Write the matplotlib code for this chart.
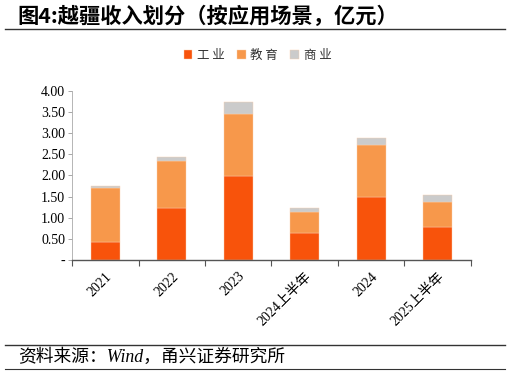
import matplotlib
matplotlib.use("Agg")
import matplotlib.pyplot as plt
import matplotlib.ticker as ticker
import numpy as np

plt.rcParams["font.family"] = ["Liberation Serif", "Noto Sans CJK SC"]

categories = ["2021", "2022", "2023", "2024上半年", "2024", "2025上半年"]
industry = [0.42, 1.24, 1.99, 0.65, 1.50, 0.79]
education = [1.29, 1.10, 1.46, 0.49, 1.21, 0.58]
commercial = [0.05, 0.10, 0.29, 0.09, 0.17, 0.18]
series_names = ["工 业", "教 育", "商 业"]
colors = ["#F8530B", "#F7984B", "#CBCBCB"]

fig = plt.figure(figsize=(5.1, 3.76), dpi=100)
ax = fig.add_axes([0.1412, 0.3085, 0.7823, 0.4495])

x = np.arange(len(categories))
bottom = np.zeros(len(categories))
for vals, name, c in zip([industry, education, commercial], series_names, colors):
    ax.bar(x, vals, width=0.43, bottom=bottom, color=c, label=name,
           edgecolor="#FBD0B0", linewidth=0.3)
    bottom += np.array(vals)

ax.set_xlim(-0.5, len(categories) - 0.5)
ax.set_ylim(0, 4)
ax.yaxis.set_major_locator(ticker.MultipleLocator(0.5))
ax.yaxis.set_major_formatter(ticker.FuncFormatter(lambda v, p: "-" if v == 0 else f"{v:.2f}"))

ax.set_xticks(x)
ax.set_xticklabels(categories, rotation=45, ha="right", rotation_mode="anchor",
                   fontsize=10, family=["Liberation Serif", "Noto Sans CJK SC"])
ax.set_xticks(np.arange(-0.5, len(categories)), minor=True)
ax.tick_params(axis="x", which="major", length=0, pad=7)
ax.tick_params(axis="x", which="minor", length=4, color="#555555", width=0.8)
ax.tick_params(axis="y", length=3, color="#999999", width=0.6, labelsize=10, pad=2)

for s in ["top", "right"]:
    ax.spines[s].set_visible(False)
ax.spines["bottom"].set_color("#555555")
ax.spines["bottom"].set_linewidth(1.0)
ax.spines["left"].set_color("#AAAAAA")
ax.spines["left"].set_linewidth(0.6)

leg = fig.legend(loc="center", bbox_to_anchor=(0.505, 0.853), ncol=3, frameon=False,
                 handlelength=0.7, handleheight=0.7, handletextpad=0.35, columnspacing=1.0,
                 prop={"family": "Noto Sans CJK SC", "size": 9})
for t in leg.get_texts():
    t.set_color("#333333")

fig.text(0.035, 0.957, "图4:越疆收入划分（按应用场景，亿元）", fontsize=15.3, fontweight="bold",
         family=["Noto Sans CJK SC"], va="center", ha="left")
fig.add_artist(plt.Line2D([0.01, 0.99], [0.922, 0.922], color="#333333", linewidth=1.0))

fig.add_artist(plt.Line2D([0.01, 0.99], [0.083, 0.083], color="#333333", linewidth=1.0))
fig.add_artist(plt.Line2D([0.01, 0.99], [0.019, 0.019], color="#333333", linewidth=0.8))
fig.text(0.035, 0.051, "资料来源：Wind，甬兴证券研究所", fontsize=12.8, style="italic",
         family=["Liberation Serif", "Noto Sans CJK SC"], va="center", ha="left")

fig.savefig("out.png", dpi=100)
